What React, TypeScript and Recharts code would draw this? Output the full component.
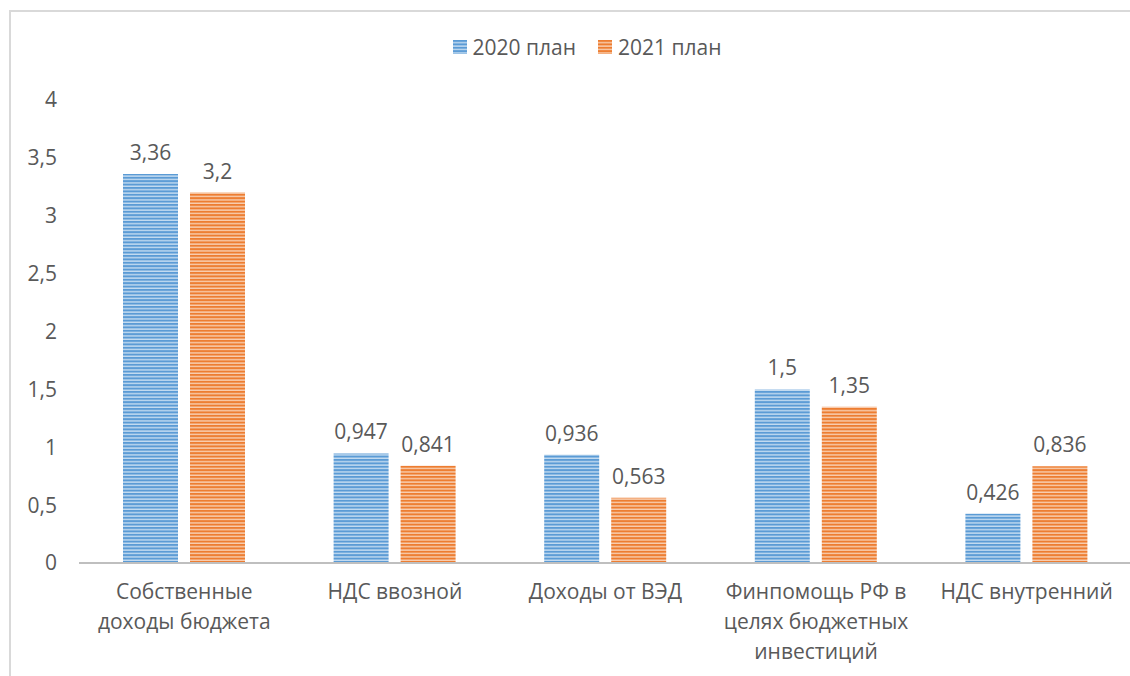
import React from "react";
import { BarChart, Bar, XAxis, YAxis, Legend, LabelList } from "recharts";

const categories = [
  "Собственные\nдоходы бюджета",
  "НДС ввозной",
  "Доходы от ВЭД",
  "Финпомощь РФ в\nцелях бюджетных\nинвестиций",
  "НДС внутренний",
];
const plan2020 = [3.36, 0.947, 0.936, 1.5, 0.426];
const plan2021 = [3.2, 0.841, 0.563, 1.35, 0.836];
const yTicks = [0, 0.5, 1, 1.5, 2, 2.5, 3, 3.5, 4];
const seriesNames = ["2020 план", "2021 план"];

const data = categories.map((c, i) => ({ name: c, a: plan2020[i], b: plan2021[i] }));

const FONT = "'Open Sans', 'Noto Sans', sans-serif";
const TXT = "#595959";
const FS = 21;
const fmt = (v: any) => String(v).replace(".", ",");

const CatTick = (props: any) => {
  const { x, y, payload } = props;
  const lines = String(payload.value).split("\n");
  return (
    <text x={x} y={y} textAnchor="middle" fill={TXT} fontSize={FS} fontFamily={FONT}>
      {lines.map((l, i) => (
        <tspan key={i} x={x} dy={i === 0 ? 28 : 30}>
          {l}
        </tspan>
      ))}
    </text>
  );
};

const LegendContent = () => (
  <div style={{ display: "flex", justifyContent: "center", gap: 22, fontFamily: FONT, fontSize: FS, color: TXT, paddingLeft: 44 }}>
    {seriesNames.map((n, i) => (
      <div key={n} style={{ display: "flex", alignItems: "center" }}>
        <svg width={14} height={14} style={{ marginRight: 6 }}>
          <rect width={14} height={14} fill={i === 0 ? "url(#stripeBlue)" : "url(#stripeOrange)"} />
        </svg>
        <span>{n}</span>
      </div>
    ))}
  </div>
);

export default function App() {
  return (
    <div style={{ position: "fixed", left: 0, top: 0, width: 1130, height: 676, overflow: "hidden", background: "#fff" }}>
      <div style={{ position: "absolute", left: 9, top: 10, width: 1200, height: 800, borderLeft: "2px solid #d9d9d9", borderTop: "2px solid #d9d9d9" }} />
      <svg width={0} height={0} style={{ position: "absolute" }}>
        <defs>
          <pattern id="stripeBlue" width={4} height={3.4} patternUnits="userSpaceOnUse">
            <rect width={4} height={3.4} fill="#c5dcf1" />
            <rect width={4} height={2} fill="#5b9bd5" />
          </pattern>
          <pattern id="stripeOrange" width={4} height={3.4} patternUnits="userSpaceOnUse">
            <rect width={4} height={3.4} fill="#f8cfb2" />
            <rect width={4} height={2} fill="#ed7d31" />
          </pattern>
        </defs>
      </svg>
      <div style={{ position: "absolute", left: 0, top: 0 }}>
        <BarChart
          width={1140}
          height={676}
          data={data}
          margin={{ top: 100, right: 8, bottom: 13, left: 0 }}
          barCategoryGap={44}
          barGap={12}
        >
          <XAxis
            dataKey="name"
            tick={<CatTick />}
            tickLine={false}
            axisLine={{ stroke: "#bfbfbf", strokeWidth: 2 }}
            height={100}
            interval={0}
          />
          <YAxis
            domain={[0, 4]}
            ticks={yTicks}
            width={79}
            axisLine={false}
            tickLine={false}
            tickSize={0}
            tickMargin={22}
            tickFormatter={fmt}
            tick={{ fill: TXT, fontSize: FS, fontFamily: FONT }}
          />
          <Legend
            verticalAlign="middle"
            content={<LegendContent />}
            wrapperStyle={{ top: 33, left: 0, width: 1130 }}
          />
          <Bar dataKey="a" name={seriesNames[0]} fill="url(#stripeBlue)" isAnimationActive={false}>
            <LabelList dataKey="a" position="top" offset={14} formatter={fmt} fill={TXT} fontSize={FS} fontFamily={FONT} />
          </Bar>
          <Bar dataKey="b" name={seriesNames[1]} fill="url(#stripeOrange)" isAnimationActive={false}>
            <LabelList dataKey="b" position="top" offset={14} formatter={fmt} fill={TXT} fontSize={FS} fontFamily={FONT} />
          </Bar>
        </BarChart>
      </div>
    </div>
  );
}
